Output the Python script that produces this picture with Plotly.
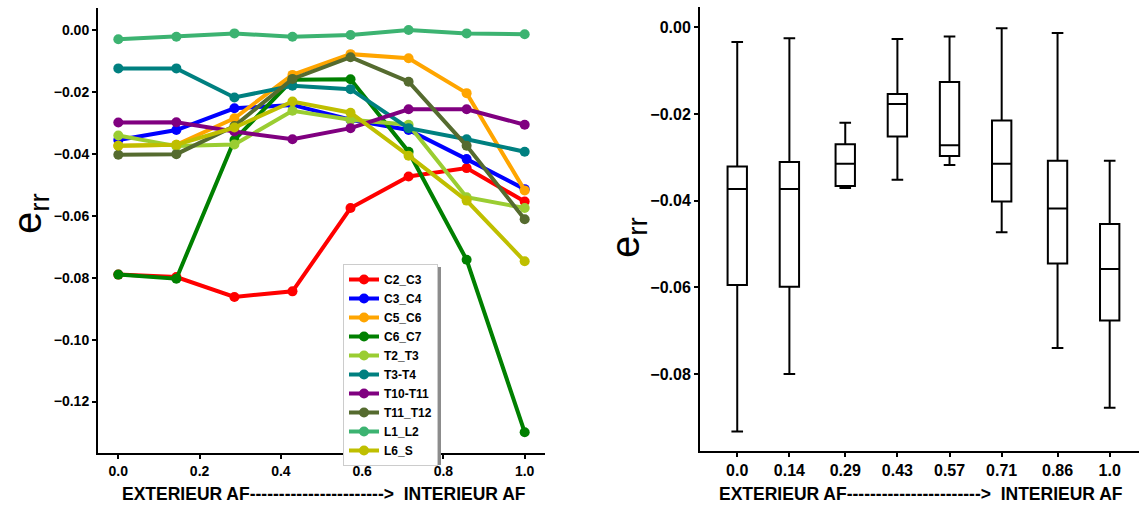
import plotly.graph_objects as go

# ---------------- data (left chart) ----------------
positions = [0.0, 1/7, 2/7, 3/7, 4/7, 5/7, 6/7, 1.0]
series_names = ["C2_C3", "C3_C4", "C5_C6", "C6_C7", "T2_T3", "T3-T4",
                "T10-T11", "T11_T12", "L1_L2", "L6_S"]
series_colors = ["#FF0000", "#0000FF", "#FFA500", "#008000", "#9ACD32",
                 "#008080", "#800080", "#556B2F", "#3CB371", "#BFBF00"]

c2_c3 = [-0.0790, -0.0798, -0.0862, -0.0844, -0.0575, -0.0473, -0.0446, -0.0554]
c3_c4 = [-0.0355, -0.0323, -0.0253, -0.0242, -0.0290, -0.0323, -0.0417, -0.0514]
c5_c6 = [-0.0374, -0.0371, -0.0285, -0.0145, -0.0078, -0.0091, -0.0204, -0.0518]
c6_c7 = [-0.0790, -0.0803, -0.0355, -0.0161, -0.0159, -0.0393, -0.0742, -0.1299]
t2_t3 = [-0.0341, -0.0375, -0.0370, -0.0261, -0.0290, -0.0306, -0.0540, -0.0575]
t3_t4 = [-0.0124, -0.0124, -0.0218, -0.0180, -0.0191, -0.0317, -0.0353, -0.0393]
t10_t11 = [-0.0299, -0.0298, -0.0328, -0.0353, -0.0317, -0.0256, -0.0256, -0.0306]
t11_t12 = [-0.0403, -0.0401, -0.0310, -0.0158, -0.0088, -0.0167, -0.0374, -0.0611]
l1_l2 = [-0.0030, -0.0022, -0.0011, -0.0022, -0.0016, 0.0000, -0.0011, -0.0014]
l6_s = [-0.0374, -0.0371, -0.0315, -0.0231, -0.0267, -0.0406, -0.0551, -0.0747]
series_values = [c2_c3, c3_c4, c5_c6, c6_c7, t2_t3, t3_t4, t10_t11, t11_t12, l1_l2, l6_s]

left_xticks = [0.0, 0.2, 0.4, 0.6, 0.8, 1.0]
left_xticklabels = ["0.0", "0.2", "0.4", "0.6", "0.8", "1.0"]
left_yticks = [0.0, -0.02, -0.04, -0.06, -0.08, -0.10, -0.12]

# ---------------- data (right chart: box plots) ----------------
box_positions = [0.0, 0.14, 0.29, 0.43, 0.57, 0.71, 0.86, 1.0]
box_labels = ["0.0", "0.14", "0.29", "0.43", "0.57", "0.71", "0.86", "1.0"]
box_upper = [-0.0034, -0.0025, -0.0220, -0.0027, -0.0021, -0.0002, -0.0013, -0.0308]
box_q3 = [-0.0321, -0.0311, -0.0270, -0.0154, -0.0126, -0.0215, -0.0308, -0.0454]
box_median = [-0.0373, -0.0373, -0.0315, -0.0177, -0.0272, -0.0315, -0.0418, -0.0558]
box_q1 = [-0.0595, -0.0599, -0.0366, -0.0252, -0.0297, -0.0402, -0.0545, -0.0677]
box_lower = [-0.0933, -0.0800, -0.0371, -0.0352, -0.0318, -0.0473, -0.0740, -0.0878]
right_yticks = [0.0, -0.02, -0.04, -0.06, -0.08]

x_title = "EXTERIEUR AF----------------------->  INTERIEUR AF"
y_title = "e<sub>rr</sub>"

FONT = "Liberation Sans"
W, H = 1139, 506

fig = go.Figure()

for name, color, vals in zip(series_names, series_colors, series_values):
    fig.add_trace(go.Scatter(
        x=positions, y=vals, name=name, mode="lines+markers",
        line=dict(color=color, width=4),
        marker=dict(color=color, size=10),
        xaxis="x", yaxis="y",
    ))

fig.add_trace(go.Box(
    x=box_positions, q1=box_q1, median=box_median, q3=box_q3,
    lowerfence=box_lower, upperfence=box_upper,
    width=0.052, whiskerwidth=0.6,
    fillcolor="white", line=dict(color="black", width=2),
    showlegend=False, boxpoints=False,
    xaxis="x2", yaxis="y2",
))

tickfont_left = dict(family=FONT, size=14, color="black", weight="bold")
tickfont_right = dict(family=FONT, size=16, color="black", weight="bold")
title_font = dict(family=FONT, size=17.5, color="black", weight="bold")
ytitle_font = dict(family=FONT, size=40, color="black")

axis_common = dict(showgrid=False, zeroline=False, showline=True, linecolor="black",
                   linewidth=2, ticks="outside", ticklen=4, tickwidth=1.5,
                   tickcolor="black", automargin=False)

fig.update_layout(
    width=W, height=H,
    margin=dict(l=0, r=0, t=0, b=0, autoexpand=False),
    plot_bgcolor="white", paper_bgcolor="white",
    xaxis=dict(domain=[98/W, 545/W], range=[-0.05, 1.05],
               tickvals=left_xticks, ticktext=left_xticklabels,
               tickfont=tickfont_left, anchor="y", **axis_common),
    yaxis=dict(domain=[(H-453.3)/H, (H-8)/H], range=[-0.1367, 0.0071],
               tickvals=left_yticks, tickformat=".2f",
               tickfont=tickfont_left, anchor="x", **axis_common),
    xaxis2=dict(domain=[700/W, 1.0], range=[-0.1, 1.0787],
                tickvals=box_positions, ticktext=box_labels,
                tickfont=tickfont_right, anchor="y2", **axis_common),
    yaxis2=dict(domain=[(H-451)/H, (H-7)/H], range=[-0.0978, 0.0047],
                tickvals=right_yticks, tickformat=".2f",
                tickfont=tickfont_right, anchor="x2", **axis_common),
    legend=dict(x=343/W, y=(H-264)/H, xanchor="left", yanchor="top",
                bgcolor="white", bordercolor="#CCCCCC", borderwidth=1,
                font=dict(family=FONT, size=12, color="black", weight="bold"),
                tracegroupgap=0),
    showlegend=True,
    shapes=[
        # soft shadow behind the legend box
        dict(type="rect", xref="paper", yref="paper",
             x0=346/W, x1=441/W, y0=(H-465)/H, y1=(H-267)/H,
             fillcolor="#8C8C8C", line=dict(width=0), layer="above"),
    ],
    annotations=[
        dict(text=x_title, x=324/W, y=(H-494)/H, xref="paper", yref="paper",
             showarrow=False, font=title_font, xanchor="center", yanchor="middle"),
        dict(text=x_title, x=921/W, y=(H-494)/H, xref="paper", yref="paper",
             showarrow=False, font=title_font, xanchor="center", yanchor="middle"),
        dict(text=y_title, x=30/W, y=(H-214)/H, xref="paper", yref="paper",
             showarrow=False, font=ytitle_font, textangle=-90,
             xanchor="center", yanchor="middle"),
        dict(text=y_title, x=628/W, y=(H-238)/H, xref="paper", yref="paper",
             showarrow=False, font=ytitle_font, textangle=-90,
             xanchor="center", yanchor="middle"),
    ],
)

fig.write_html("out.html",
               config={"displayModeBar": False},
               post_script="document.body.style.margin='0';document.body.style.overflow='hidden';")
